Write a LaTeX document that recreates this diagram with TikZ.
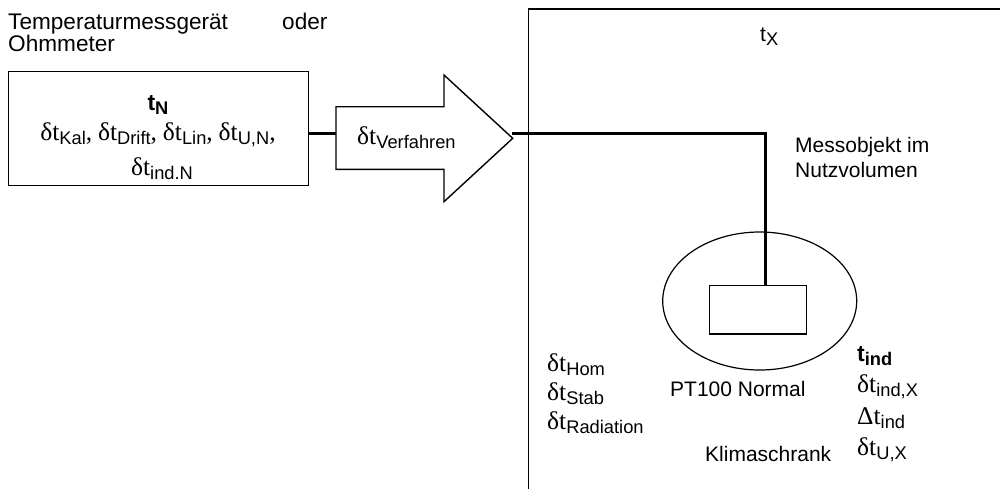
\documentclass[tikz,border=0pt]{standalone}
\usepackage{fontspec}
\setmainfont{Liberation Sans}
\newfontfamily\serifdt{Liberation Serif}
\usetikzlibrary{shapes.geometric}
\newcommand\mainsz{\fontsize{21}{21}\selectfont}
\newcommand\topsz{\fontsize{22.6}{22.6}\selectfont}
\newcommand\sbs[1]{\raisebox{-4pt}{\fontsize{18.3}{18.3}\selectfont #1}}
\newcommand\dts[1]{{\fontsize{25.5}{25.5}\selectfont\serifdt δt}\sbs{#1}}
\newcommand\Dts[1]{{\fontsize{25.5}{25.5}\selectfont\serifdt Δt}\sbs{#1}}
\newcommand\cma{{\fontsize{25.5}{25.5}\selectfont\serifdt ,}}
\begin{document}
\begin{tikzpicture}[x=1pt,y=-1pt,
  boxs/.style={draw, line width=1.4pt, inner sep=0, rectangle},
  thinbox/.style={draw, line width=1.2pt, inner sep=0},
  wire/.style={line width=3pt},
  txt/.style={anchor=base west, inner sep=0, font=\mainsz},
  toptxt/.style={anchor=base west, inner sep=0, font=\topsz},
  ctxt/.style={anchor=base, inner sep=0, font=\mainsz}]
\useasboundingbox (0,0) rectangle (1000,488);
% chamber
\node[thinbox, anchor=north west, minimum width=700, minimum height=700] (chamber) at (527.7,8.3) {};
% meter box
\node[boxs, anchor=north west, minimum width=300, minimum height=114] (meter) at (8,71) {};
% arrow
\draw[line width=1.4pt, line join=miter] (336,106.7) -- (444,106.7) -- (444,75) -- (512.7,138.3) -- (444,201.7) -- (444,169.3) -- (336,169.3) -- cycle;
\coordinate (arrL) at (336,133);
\coordinate (arrT) at (512,133);
\coordinate (bend) at (765.7,133);
% object ellipse and sensor
\node[thinbox, ellipse, minimum width=194, minimum height=138] (obj) at (759.7,301) {};
\node[boxs, anchor=north west, minimum width=96.7, minimum height=48.3] (sensor) at (709,285) {};
% wires
\draw[wire] (meter.east |- arrL) -- (arrL);
\draw[wire] (arrT) -- (bend) -- (bend |- sensor.north);
% texts
\node[toptxt] (t1) at (8,29.5) {Temperaturmessgerät};
\node[toptxt] (t2) at (282,29.5) {oder};
\node[toptxt] (t3) at (8,51.5) {Ohmmeter};
\node[ctxt] (tN) at (158,110) {{\fontsize{23}{23}\selectfont\bfseries t}\sbs{\bfseries N}};
\node[ctxt] (l1) at (158,140) {\dts{Kal}\cma{} \dts{Drift}\cma{} \dts{Lin}\cma{} \dts{U,N}\cma};
\node[ctxt] (l2) at (162,175) {\dts{ind.N}};
\node[txt] (verf) at (357,144) {\dts{Verfahren}};
\node[txt] (tX) at (760,41) {t\sbs{X}};
\node[txt] (mo1) at (795,152) {Messobjekt im};
\node[txt] (mo2) at (795,177) {Nutzvolumen};
\node[txt] (hom) at (547,371) {\dts{Hom}};
\node[txt] (stab) at (547,400) {\dts{Stab}};
\node[txt] (rad) at (547,429) {\dts{Radiation}};
\node[txt] (pt) at (670,396) {PT100 Normal};
\node[txt] (kl) at (705,461) {Klimaschrank};
\node[txt] (tind) at (857,361) {{\fontsize{23}{23}\selectfont\bfseries t}\sbs{\bfseries ind}};
\node[txt] (dix) at (857,392) {\dts{ind,X}};
\node[txt] (Dind) at (857,424) {\Dts{ind}};
\node[txt] (dux) at (857,455) {\dts{U,X}};
\end{tikzpicture}
\end{document}
